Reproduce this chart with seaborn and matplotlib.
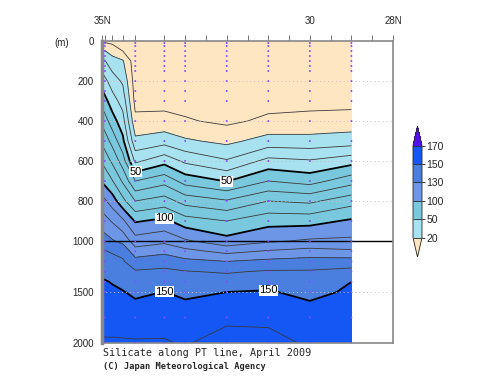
import numpy as np
import matplotlib
matplotlib.use('Agg')
import matplotlib.pyplot as plt
import seaborn as sns
import pandas as pd

# grid of the section (latitude columns x depth rows), silicate in umol/kg
lats = [35.0, 34.75, 34.5, 34.2, 33.5, 33.0, 32.0, 31.0, 30.0, 29.0]
depths = [0, 50, 100, 200, 300, 400, 500, 600, 700, 800, 900, 1000,
          1100, 1200, 1300, 1400, 1500, 1600, 1800, 2000]

si_3500 = [9, 22, 33, 45.5, 56.5, 68, 78, 89, 99, 114, 125, 135, 141, 145, 148, 151, 152.5, 154, 157.5, 161]
si_3475 = [7, 16, 24, 35, 44.5, 54.5, 66.5, 78, 90.5, 105, 119, 131, 139, 143, 146, 149.5, 151.5, 153, 157.5, 161]
si_3450 = [5, 10, 21, 28.5, 36, 44, 52.5, 65, 78.5, 93, 112, 127, 137.5, 141, 144, 147.5, 150.5, 152, 157, 161]
si_3420 = [3, 3.5, 4, 5, 7, 12.5, 22.5, 38, 60, 80, 99, 114.5, 124, 134, 141, 144.5, 148, 151, 156, 161]
si_3350 = [3, 3, 3.5, 4.5, 7, 13, 26, 46.5, 66.5, 84.5, 102.5, 117.5, 127.5, 136, 142, 146, 150.2, 152.3, 156.6, 161]
si_3300 = [3, 3, 3.5, 4.5, 6.5, 11, 21.5, 38, 56, 76, 94.5, 111.5, 123, 132.5, 140.5, 144.1, 147.8, 150.8, 154.9, 159]
si_3200 = [2.5, 2.5, 3, 4, 5.5, 8, 17.5, 31, 49.5, 71, 90, 103.5, 117, 130, 139, 144.7, 150, 153, 159, 165]
si_3100 = [3, 3, 3.5, 4.5, 6.5, 12, 24, 43, 60, 80, 96.5, 108.5, 121, 132.5, 141, 146.3, 150.8, 153.4, 158.7, 164]
si_3000 = [3, 3, 3.5, 4.5, 7, 13, 23.5, 41, 56, 78, 96.5, 111.5, 123.5, 134, 141, 144.2, 147.4, 150.4, 154.4, 158.4]
si_2900 = [3, 3, 3.5, 4.5, 7, 14, 25, 46, 66, 86, 101.5, 112, 121.5, 134.5, 143, 150, 151.4, 152.8, 155.7, 158.6]

# stations and bottle depths (purple dots)
station_lats = [34.93, 34.2, 33.5, 33.0, 32.0, 31.0, 30.0, 29.0]
bottle_depths = [10, 25, 50, 75, 100, 125, 150, 200, 250, 300, 400, 500, 600,
                 700, 800, 900, 1000, 1100, 1200, 1300, 1400, 1500, 1750, 2000]

cbar_levels = [20, 50, 100, 130, 150, 170]
fill_colors = ['#FFE6C2', '#A8E1EF', '#7AC8DD', '#6E96E7', '#4A7EDF', '#1457F5', '#5212EE']
line_levels = [10, 20, 30, 40, 60, 70, 80, 90, 110, 120, 130, 140, 160]
thick_levels = [50, 100, 150]

top_ticks = [35.0, 34.93, 34.75, 34.5, 34.2, 33.5, 33.0, 32.5, 32.0, 31.5, 31.0,
             30.5, 30.0, 29.5, 29.0, 28.5, 28.0]
top_labels = {35.0: '35N', 30.0: '30', 28.0: '28N'}
depth_ticks = [0, 200, 400, 600, 800, 1000, 1500, 2000]
grid_depths = [200, 400, 600, 800, 1500]

Z = np.column_stack([si_3500, si_3475, si_3450, si_3420, si_3350, si_3300,
                     si_3200, si_3100, si_3000, si_2900])
X, Y = np.meshgrid(lats, depths)


# depth axis: 0-1000 m stretched, 1000-2000 m compressed
def fwd(d):
    d = np.asarray(d, dtype=float)
    return np.where(d <= 1000, d, 1000 + (d - 1000) * 0.51)


def inv(v):
    v = np.asarray(v, dtype=float)
    return np.where(v <= 1000, v, 1000 + (v - 1000) / 0.51)


sns.set_style('white')
plt.rcParams['font.family'] = ['Liberation Sans', 'DejaVu Sans']

fig = plt.figure(figsize=(5, 3.87), dpi=100)
ax = fig.add_axes([0.204, 0.1137, 0.582, 0.7803])
ax.set_yscale('function', functions=(fwd, inv))

cs = ax.contourf(X, Y, Z, levels=cbar_levels, colors=fill_colors, extend='both')
ax.contour(X, Y, Z, levels=line_levels, colors='#3a3a3a', linewidths=0.6)
ct = ax.contour(X, Y, Z, levels=thick_levels, colors='black', linewidths=1.3)
lbls = ax.clabel(ct, fmt='%d', fontsize=8, inline=True, inline_spacing=2,
                 manual=[(34.2, 660), (32.0, 705), (33.5, 880), (33.5, 1490), (31.0, 1470)])
for t in lbls:
    t.set_rotation(0)
    t.set_bbox(dict(facecolor='white', edgecolor='none', pad=0.3))

for g in grid_depths:
    ax.axhline(g, color='#c4c4c4', lw=0.7, ls=(0, (1, 3)), zorder=2)
ax.axhline(1000, color='black', lw=1.0, zorder=2.5)

dots = pd.DataFrame([(la, d) for la in station_lats for d in bottle_depths], columns=['lat', 'depth'])
sns.scatterplot(data=dots, x='lat', y='depth', ax=ax, s=2, color='#8a4cff',
                edgecolor='none', legend=False, zorder=3)

ax.set_xlim(35, 28)
ax.set_ylim(2000, 0)
ax.set_xlabel('')
ax.set_ylabel('')

ax.xaxis.tick_top()
ax.set_xticks(top_ticks)
ax.set_xticklabels([top_labels.get(t, '') for t in top_ticks])
ax.tick_params(axis='x', direction='out', length=4, width=0.7, color='#777777',
               pad=7, labelsize=7)
ax.set_yticks(depth_ticks)
ax.set_yticklabels([str(d) for d in depth_ticks])
ax.yaxis.set_minor_locator(matplotlib.ticker.NullLocator())
ax.tick_params(axis='y', direction='out', length=4, width=0.7, color='#555555',
               pad=2, labelsize=7)

for s in ax.spines.values():
    s.set_color('#888888')
    s.set_linewidth(1.2)
ax.spines['left'].set_linewidth(2.5)

fig.text(0.124, 0.889, '(m)', fontsize=7, ha='center', va='center')
fig.text(0.206, 0.088, 'Silicate along PT line, April 2009', fontsize=7.3,
         family='DejaVu Sans Mono', va='center')
fig.text(0.206, 0.053, '(C) Japan Meteorological Agency', fontsize=6.2,
         family='DejaVu Sans Mono', weight='bold', va='center')

# colorbar axes includes the two triangles
cax = fig.add_axes([0.826, 0.336, 0.018, 0.338])
cb = fig.colorbar(cs, cax=cax, extendfrac=0.21, drawedges=True)
cb.set_ticks(cbar_levels)
cb.ax.tick_params(labelsize=7.5, length=2, width=0.6, pad=1)
cb.outline.set_linewidth(0.6)
cb.dividers.set_linewidth(0.6)

fig.savefig('out.png', dpi=100)
